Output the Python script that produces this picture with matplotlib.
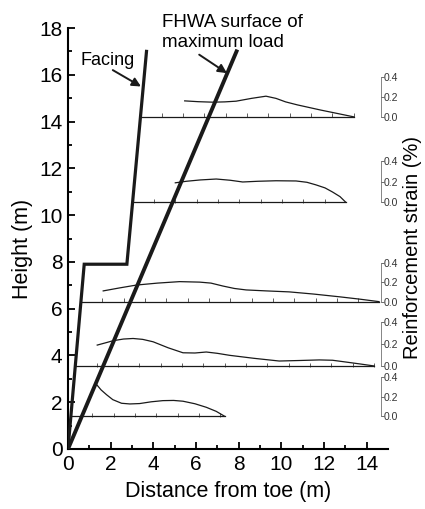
import matplotlib
matplotlib.use('Agg')
import matplotlib.pyplot as plt
import numpy as np

plt.rcParams['font.family'] = ['Liberation Sans', 'DejaVu Sans']

# reinforcement layers: height (m), inset height for 0.4 % (m), strain curves
layer_heights = [1.4, 3.55, 6.3, 10.55, 14.2]
layer_scale_h = [1.67, 1.88, 1.67, 1.75, 1.71]
layer_ends = [7.34, 14.35, 14.58, 13.02, 13.4]

strain_x = [
  [1.34, 1.55, 1.81, 2.1, 2.51, 2.9, 3.36, 3.9, 4.45, 4.95, 5.39, 5.95, 6.48, 6.95, 7.34],
  [1.37, 1.75, 2.12, 2.6, 3.05, 3.5, 3.99, 4.7, 5.39, 5.95, 6.48, 7.0, 7.57, 8.7, 9.9, 10.9, 11.78, 12.4, 13.02, 13.7, 14.35],
  [1.65, 2.4, 3.21, 4.2, 5.23, 6.17, 6.7, 7.26, 7.8, 8.35, 9.3, 10.37, 11.5, 12.71, 13.7, 14.58],
  [5.03, 5.55, 6.2, 6.95, 7.6, 8.19, 8.9, 9.75, 10.69, 11.2, 11.62, 12.05, 12.4, 12.75, 13.02],
  [5.47, 6.1, 6.79, 7.35, 7.88, 8.6, 9.28, 9.75, 10.2, 10.75, 11.3, 11.85, 12.4, 12.9, 13.4],
]
strain_y = [
  [0.325, 0.27, 0.22, 0.17, 0.133, 0.126, 0.13, 0.148, 0.16, 0.162, 0.154, 0.128, 0.092, 0.05, 0.0],
  [0.19, 0.21, 0.23, 0.245, 0.25, 0.242, 0.22, 0.165, 0.12, 0.118, 0.127, 0.115, 0.097, 0.07, 0.045, 0.05, 0.055, 0.052, 0.036, 0.018, 0.0],
  [0.11, 0.14, 0.17, 0.19, 0.205, 0.2, 0.19, 0.16, 0.135, 0.12, 0.11, 0.1, 0.078, 0.05, 0.025, 0.0],
  [0.19, 0.205, 0.218, 0.227, 0.215, 0.198, 0.205, 0.21, 0.208, 0.195, 0.17, 0.14, 0.1, 0.055, 0.0],
  [0.16, 0.152, 0.147, 0.15, 0.157, 0.185, 0.207, 0.185, 0.15, 0.12, 0.094, 0.068, 0.044, 0.022, 0.0],
]

# facing and FHWA surface
facing_x = [0.0, 0.76, 2.76, 3.68]
facing_y = [0.0, 7.9, 7.9, 17.0]
fhwa_x = [0.0, 7.9]
fhwa_y = [0.0, 17.0]


def facing_at(h):
  return np.interp(h, [0.0, 7.9, 7.91, 17.0], [0.0, 0.76, 2.76, 3.68])


fig = plt.figure(figsize=(4.25, 5.09), dpi=100)
ax = fig.add_axes([68 / 425, 60 / 509, 320 / 425, 421 / 509])

ax.plot(facing_x, facing_y, color='#1a1a1a', lw=2.3, solid_joinstyle='miter', zorder=4)
ax.plot(fhwa_x, fhwa_y, color='#1a1a1a', lw=2.8, zorder=4)

for base, sh, xend, sx, sy in zip(layer_heights, layer_scale_h, layer_ends, strain_x, strain_y):
  x0 = float(facing_at(base))
  ax.plot([x0, xend], [base, base], color='#1a1a1a', lw=0.9, zorder=3)
  ticks = np.arange(x0 + 1.0, xend, 1.0)
  ax.plot(ticks, [base + 0.06] * len(ticks), ls='none', marker='|', ms=2.5, mew=0.6, color='#444444')
  ax.plot(sx, base + np.array(sy) * sh / 0.4, color='#1a1a1a', lw=0.9, zorder=3)

  ins = ax.inset_axes([14.65, base, 0.001, sh], transform=ax.transData)
  ins.set_xlim(0, 1)
  ins.set_ylim(0, 0.4)
  ins.set_xticks([])
  ins.set_yticks([0.0, 0.2, 0.4])
  ins.set_yticklabels(['0.0', '0.2', '0.4'])
  ins.yaxis.tick_right()
  ins.tick_params(axis='y', direction='out', length=2, width=0.5, pad=0.5, labelsize=7.5, colors='#333333')
  for s in ['top', 'bottom', 'left']:
    ins.spines[s].set_visible(False)
  ins.spines['right'].set_linewidth(0.5)
  ins.spines['right'].set_color('#555555')
  ins.patch.set_visible(False)

ax.set_xlim(0, 15)
ax.set_ylim(0, 18)
ax.set_xticks(np.arange(0, 15, 2))
ax.set_yticks(np.arange(0, 19, 2))
ax.set_xticks(np.arange(1, 15, 2), minor=True)
ax.set_yticks(np.arange(1, 18, 2), minor=True)
ax.tick_params(which='both', direction='in', width=1.3, labelsize=15, pad=4)
ax.tick_params(which='major', length=5)
ax.tick_params(which='minor', length=3)
ax.spines['top'].set_visible(False)
ax.spines['right'].set_visible(False)
ax.spines['left'].set_linewidth(1.5)
ax.spines['bottom'].set_linewidth(1.5)
ax.set_xlabel('Distance from toe (m)', fontsize=15.5, labelpad=5)
ax.set_ylabel('Height (m)', fontsize=15.5)
ax.yaxis.set_label_coords(-0.11, 0.475)
fig.text(412 / 425, 1 - 247 / 509, 'Reinforcement strain (%)', rotation=90, ha='center', va='center', fontsize=14.5)

arrow = dict(arrowstyle='-|>', color='#1a1a1a', lw=1.4, shrinkA=0, shrinkB=0, mutation_scale=13)
ax.text(1.87, 16.6, 'Facing', ha='center', va='center', fontsize=13)
ax.annotate('', xy=(3.42, 15.5), xytext=(2.1, 16.2), arrowprops=arrow)
ax.text(4.42, 17.8, 'FHWA surface of\nmaximum load', ha='left', va='center', fontsize=13.5,
        linespacing=1.25, clip_on=False)
ax.annotate('', xy=(7.45, 16.07), xytext=(6.15, 16.86), arrowprops=arrow, annotation_clip=False)

fig.savefig('out.png', dpi=100)
